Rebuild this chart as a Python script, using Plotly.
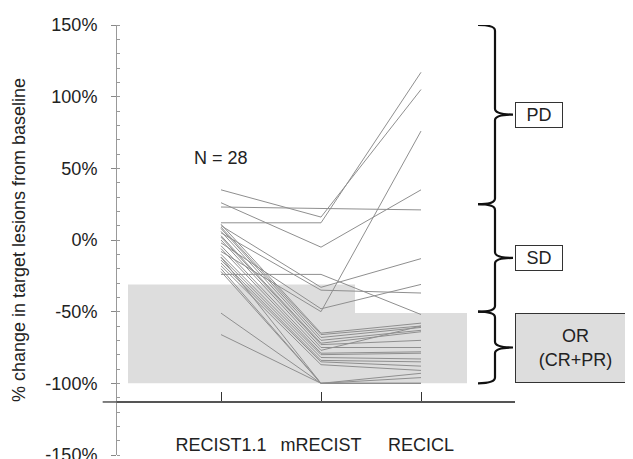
import plotly.graph_objects as go

categories = ["RECIST1.1", "mRECIST", "RECICL"]

recist11 = [35, 12, 23, 26, -24, 10, 5, -2, -8, 11, 9, 8, 6, 3, 2, 0, -4, -6, -10, -12,
            -14, -16, -18, -20, -22, -51, -66, -12]
mrecist = [16, 12, 22, -5, -24, -33, -35, -48, -50, -65, -66, -68, -70, -72, -73, -75, -77, -79,
           -80, -82, -84, -85, -87, -100, -100, -100, -100, -100]
recicl = [105, 117, 21, 35, -52, -13, -37, -31, 76, -58, -60, -61, -63, -64, -70, -75, -60, -78,
          -79, -83, -85, -88, -91, -93, -96, -100, -100, -100]

n_label = "N = 28"

# OR zones (threshold, x-extent in category units)
or_zones = [(-0.93, 1.34, -31), (1.34, 2.46, -51)]
zone_floor = -100

# response bracket bounds
brackets = [("PD", 150, 25), ("SD", 25, -50), ("OR<br>(CR+PR)", -50, -100)]

y_ticks = [150, 100, 50, 0, -50, -100, -150]
y_ticktext = [f"{v}%" for v in y_ticks]
x_axis_y = -113

fig = go.Figure()

for a, b, c in zip(recist11, mrecist, recicl):
    fig.add_trace(go.Scatter(x=[0, 1, 2], y=[a, b, c], mode="lines",
                             line=dict(color="#8f8f8f", width=1), showlegend=False,
                             hoverinfo="skip"))

shapes = []
for x0, x1, top in or_zones:
    shapes.append(dict(type="rect", xref="x", yref="y", x0=x0, x1=x1, y0=zone_floor, y1=top,
                       fillcolor="#dddddd", line=dict(width=0), layer="below"))

# stub of x axis line left of y axis
shapes.append(dict(type="line", xref="paper", yref="y", x0=-0.036, x1=0, y0=x_axis_y, y1=x_axis_y,
                   line=dict(color="#555555", width=1.5)))

xl, xv, xt = 2.57, 2.74, 2.92
d = 4
for label, y0, y1 in brackets:
    ym = (y0 + y1) / 2
    path = (f"M {xl},{y0} Q {xv},{y0} {xv},{y0 - d} L {xv},{ym + d} "
            f"Q {xv},{ym} {xt},{ym} Q {xv},{ym} {xv},{ym - d} "
            f"L {xv},{y1 + d} Q {xv},{y1} {xl},{y1}")
    shapes.append(dict(type="path", xref="x", yref="y", path=path,
                       line=dict(color="#111111", width=2.2)))

annotations = [dict(text=n_label, x=0, y=57, xref="x", yref="y", showarrow=False,
                    font=dict(size=18, color="#222222"))]
for label, y0, y1 in brackets:
    ym = (y0 + y1) / 2
    is_or = label.startswith("OR")
    annotations.append(dict(text=label, x=2.94, y=ym, xref="x", yref="y", xanchor="left",
                            showarrow=False, font=dict(size=18, color="#222222"),
                            bordercolor="#333333", borderwidth=1, borderpad=1,
                            bgcolor="#dddddd" if is_or else "white",
                            width=117 if is_or else 44, height=66 if is_or else 22))

fig.update_layout(
    width=633, height=459,
    margin=dict(l=109, r=126, t=17, b=12),
    paper_bgcolor="white", plot_bgcolor="white",
    font=dict(family="Liberation Sans, Arial, sans-serif", size=18, color="#222222"),
    shapes=shapes, annotations=annotations,
    xaxis=dict(range=[-1.04, 2.94], tickvals=[0, 1, 2], ticktext=categories,
               anchor="free", position=(x_axis_y + 150) / 300, automargin=False,
               showline=True, linecolor="#555555", linewidth=1.5,
               ticks="inside", ticklen=9, tickcolor="#333333", tickwidth=1,
               showgrid=False, zeroline=False, ticklabelstandoff=27,
               tickfont=dict(size=18)),
    yaxis=dict(range=[-150, 150], tickvals=y_ticks, ticktext=y_ticktext, automargin=False,
               showline=True, linecolor="#999999", linewidth=1,
               ticks="outside", ticklen=5, tickcolor="#888888",
               minor=dict(dtick=10, ticks="inside", ticklen=3, tickcolor="#999999"),
               showgrid=False, zeroline=False, ticklabelstandoff=10,
               title=dict(text="% change in target lesions from baseline", standoff=15,
                          font=dict(size=18))),
)

fig.write_html("out.html")
